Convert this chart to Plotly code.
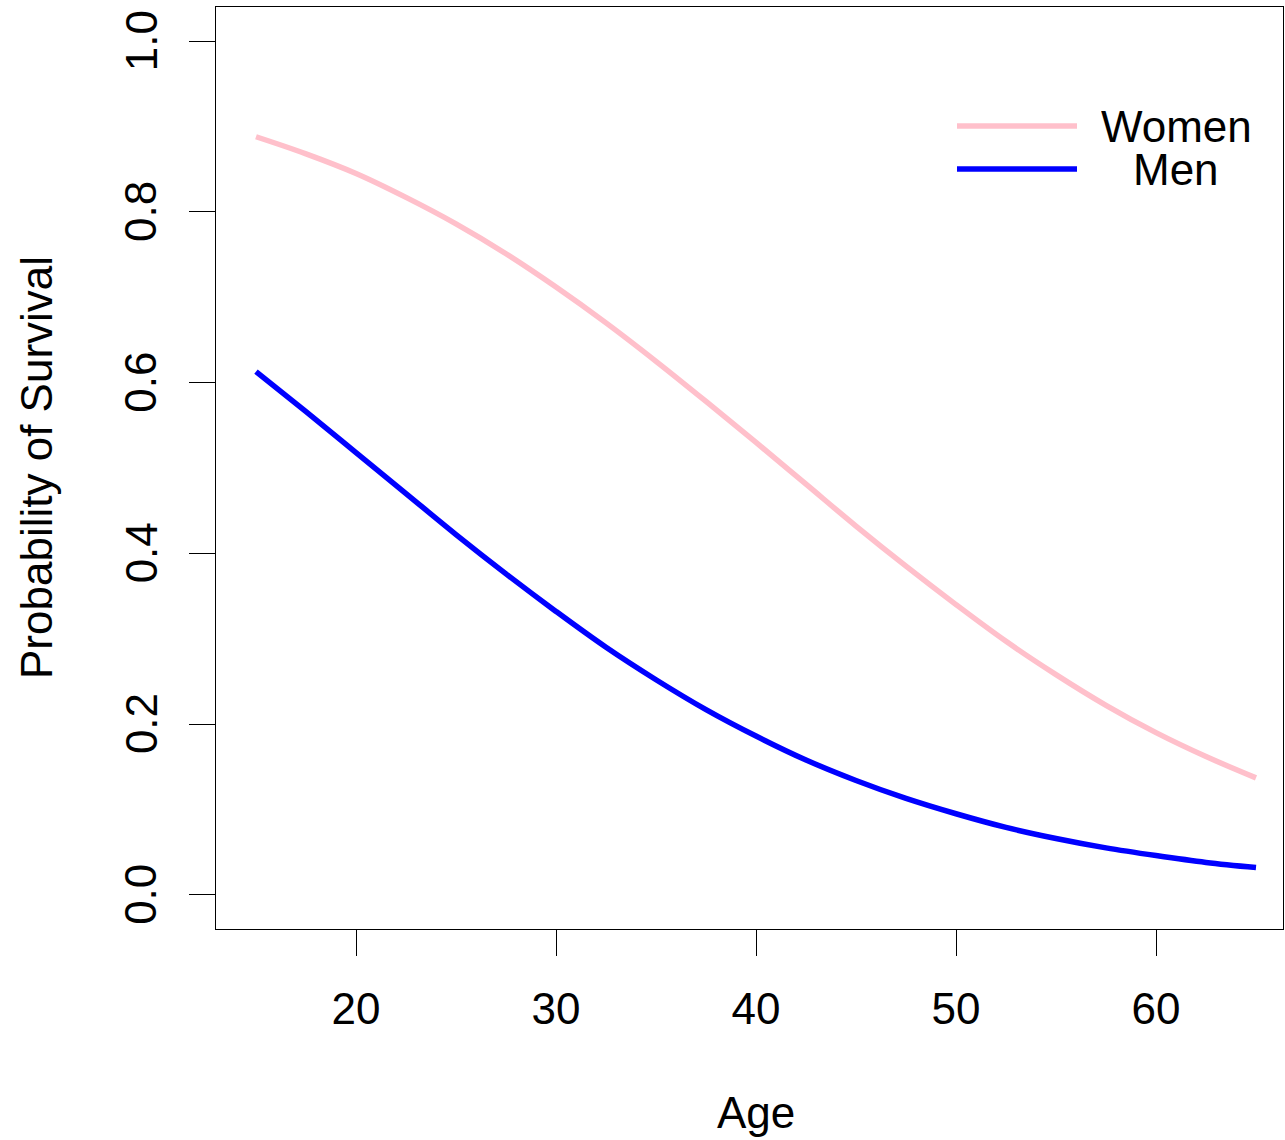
import plotly.graph_objects as go

# Predicted probability of survival by age, separately for women and men
age = [15, 17.5, 20, 22.5, 25, 27.5, 30, 32.5, 35, 37.5, 40, 42.5,
       45, 47.5, 50, 52.5, 55, 57.5, 60, 62.5, 65]
women = [0.888, 0.868, 0.845, 0.817, 0.786, 0.751, 0.712, 0.670, 0.625,
         0.578, 0.530, 0.481, 0.432, 0.385, 0.340, 0.297, 0.258, 0.222,
         0.190, 0.162, 0.137]
men = [0.613, 0.566, 0.518, 0.470, 0.422, 0.376, 0.332, 0.290, 0.252,
       0.217, 0.186, 0.158, 0.134, 0.113, 0.095, 0.079, 0.066, 0.055,
       0.046, 0.038, 0.032]

x_ticks = [20, 30, 40, 50, 60]
y_ticks = [0.0, 0.2, 0.4, 0.6, 0.8, 1.0]
y_tick_text = ["0.0", "0.2", "0.4", "0.6", "0.8", "1.0"]

PINK = "#FFC0CB"
BLUE = "#0000FF"
FONT = "Liberation Sans, Arial, Helvetica, sans-serif"
FS = 44

W, H = 1285, 1140
ML, MR, MT, MB = 216, 2, 7, 211
PW, PH = W - ML - MR, H - MT - MB


def px_x(px):
    return (px - ML) / PW


def px_y(py):
    return (H - MB - py) / PH


fig = go.Figure()
fig.add_trace(go.Scatter(x=age, y=women, mode="lines",
                         line=dict(color=PINK, width=5.5, shape="spline", smoothing=1),
                         showlegend=False, name="Women"))
fig.add_trace(go.Scatter(x=age, y=men, mode="lines",
                         line=dict(color=BLUE, width=5.5, shape="spline", smoothing=1),
                         showlegend=False, name="Men"))

axis_common = dict(showgrid=False, zeroline=False, showline=True, mirror=True,
                   linecolor="black", linewidth=1.3, ticks="outside", ticklen=26,
                   tickwidth=1.3, tickcolor="black",
                   tickfont=dict(family=FONT, size=FS, color="black"))

fig.update_xaxes(range=[13, 13 + PW / 20], tickvals=x_ticks, ticklabelstandoff=15, **axis_common)
fig.update_yaxes(range=[-0.04, 1.04], tickvals=y_ticks, showticklabels=False, **axis_common)

# Y tick labels, written parallel to the axis
for v, t in zip(y_ticks, y_tick_text):
    fig.add_annotation(text=t, xref="paper", yref="y", x=px_x(141), y=v,
                       xanchor="center", yanchor="middle", textangle=-90,
                       showarrow=False, font=dict(family=FONT, size=FS, color="black"))

# Legend drawn as line segments with centred labels
legend_items = [("Women", PINK, 126), ("Men", BLUE, 169)]
for label, color, py in legend_items:
    fig.add_shape(type="line", xref="paper", yref="paper",
                  x0=px_x(957), x1=px_x(1077), y0=px_y(py), y1=px_y(py),
                  line=dict(color=color, width=5.5))
    fig.add_annotation(text=label, xref="paper", yref="paper",
                       x=px_x(1176), y=px_y(py), xanchor="center", yanchor="middle",
                       height=42, showarrow=False,
                       font=dict(family=FONT, size=FS, color="black"))

# Axis titles
fig.add_annotation(text="Age", xref="paper", yref="paper", x=px_x(756), y=px_y(1112),
                   xanchor="center", yanchor="middle", showarrow=False,
                   font=dict(family=FONT, size=FS, color="black"))
fig.add_annotation(text="Probability of Survival", xref="paper", yref="paper",
                   x=px_x(36), y=px_y(468), xanchor="center", yanchor="middle",
                   textangle=-90, showarrow=False,
                   font=dict(family=FONT, size=FS, color="black"))

fig.update_layout(width=W, height=H, margin=dict(l=ML, r=MR, t=MT, b=MB),
                  plot_bgcolor="white", paper_bgcolor="white")

fig.write_html("out.html")
